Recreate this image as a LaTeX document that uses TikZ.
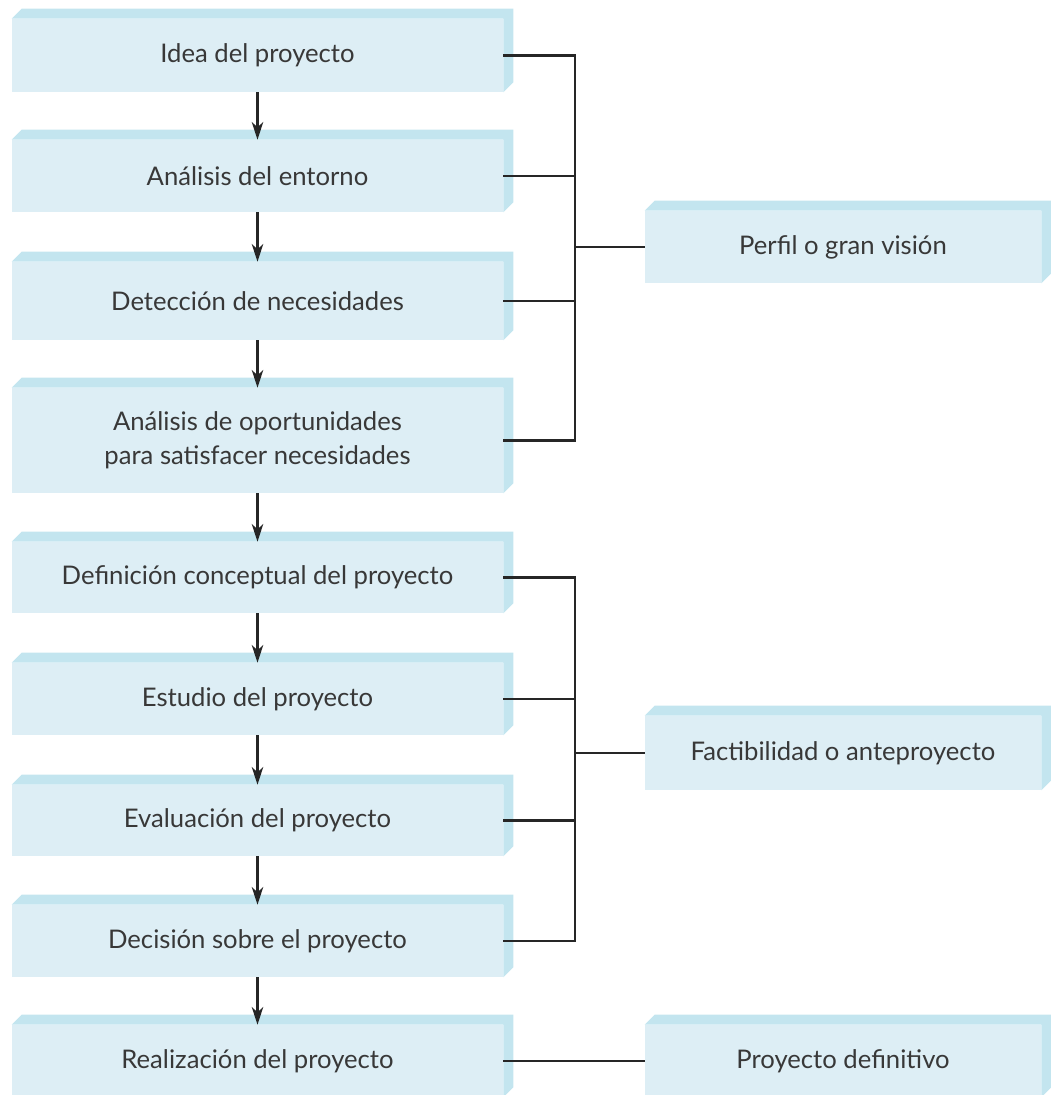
\documentclass[tikz,border=0pt]{standalone}
\usepackage{fontspec}
\setmainfont{Lato}
\usepackage{tikz}
\usetikzlibrary{positioning,calc,arrows.meta}
\definecolor{cara}{HTML}{DDEEF5}
\definecolor{canto}{HTML}{C3E5EF}
\definecolor{texto}{HTML}{383838}
\tikzset{
    etapa/.style={fill=cara, text=texto, minimum width=9.82cm, align=center,
        inner sep=0pt, font=\fontsize{14.6}{19.4}\selectfont},
    fase/.style={etapa, minimum width=7.92cm},
    linea/.style={line width=1.6pt, draw=black!85},
    flecha/.style={linea, -{Stealth[length=10pt,width=6.5pt,inset=3pt]}}
}

\begin{document}
\begin{tikzpicture}
    \useasboundingbox (0,0) rectangle (21,-21.9);

    % Etapas (columna izquierda)
    \foreach \name/\y/\h/\txt in {
        idea/-1.11/1.46/{Idea del proyecto},
        entorno/-3.52/1.44/{Análisis del entorno},
        necesidades/-6.02/1.56/{Detección de necesidades},
        oportunidades/-8.81/2.10/{Análisis de oportunidades\\para satisfacer necesidades},
        definicion/-11.55/1.42/{Definición conceptual del proyecto},
        estudio/-13.98/1.44/{Estudio del proyecto},
        evaluacion/-16.41/1.42/{Evaluación del proyecto},
        decision/-18.82/1.44/{Decisión sobre el proyecto},
        realizacion/-21.22/1.44/{Realización del proyecto}} {
        \node[etapa, minimum height=\h cm] (\name) at (5.15,\y) {\txt};
    }

    % Fases (columna derecha)
    \foreach \name/\y/\h/\txt in {
        perfil/-4.94/1.44/{Perfil o gran visión},
        factibilidad/-15.06/1.48/{Factibilidad o anteproyecto},
        definitivo/-21.22/1.44/{Proyecto definitivo}} {
        \node[fase, minimum height=\h cm] (\name) at (16.86,\y) {\txt};
    }

    % Cantos
    \foreach \name in {idea,entorno,necesidades,oportunidades,definicion,estudio,
        evaluacion,decision,realizacion,perfil,factibilidad,definitivo} {
        \fill[canto] (\name.north west) -- ++(0.2,0.2)
            -- ($(\name.north east)+(0.2,0.2)$) -- ($(\name.south east)+(0.2,0.2)$)
            -- (\name.south east) -- (\name.north east) -- cycle;
    }

    % Flechas
    \foreach \a/\b in {idea/entorno, entorno/necesidades, necesidades/oportunidades,
        oportunidades/definicion, definicion/estudio, estudio/evaluacion,
        evaluacion/decision, decision/realizacion} {
        \draw[flecha] (\a.south) -- (\b.north);
    }

    % Llaves
    \coordinate (barra) at (11.5,0);
    \draw[linea] (idea.east) -| (barra |- oportunidades.east) -- (oportunidades.east);
    \draw[linea] (definicion.east) -| (barra |- decision.east) -- (decision.east);
    \foreach \name in {entorno,necesidades,estudio,evaluacion} {
        \draw[linea] (\name.east) -- (\name.east -| barra);
    }
    \foreach \name in {perfil,factibilidad} {
        \draw[linea] (\name.west) -- (\name.west -| barra);
    }
    \draw[linea] (realizacion.east) -- (definitivo.west);
\end{tikzpicture}
\end{document}
